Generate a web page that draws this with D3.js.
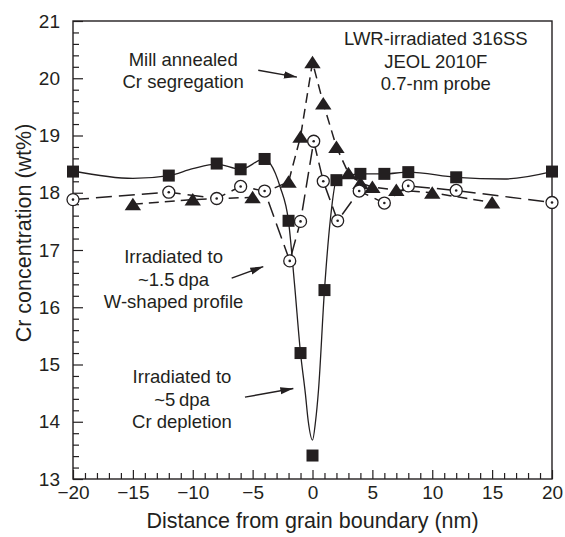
<!DOCTYPE html>
<html>
<head>
<meta charset="utf-8">
<script src="https://cdn.jsdelivr.net/npm/d3@7"></script>
<style>
  body { margin: 0; background: #fff; }
  text { font-family: "Liberation Sans", Arial, Helvetica, sans-serif; fill: #231f20; }
</style>
</head>
<body>
<div id="chart"></div>
<script>
// Squares: irradiated to ~5 dpa (measured points)
const squareX = [-20, -12, -8, -6, -4, -2, -1, 0, 1, 2, 4, 6, 8, 12, 20];
const squareY = [18.37, 18.30, 18.51, 18.41, 18.59, 17.51, 15.20, 13.41, 16.30, 18.22, 18.33, 18.33, 18.36, 18.27, 18.37];

// Smooth fitted curve drawn through the square data
const fitX = [-20, -15, -12, -10, -8, -6, -4, -3.5, -2.7, -2, -1.5, -1, -0.6, -0.35, 0, 0.25, 0.5, 1, 1.5, 2, 4, 6, 8, 12, 16, 20];
const fitY = [18.38, 18.25, 18.30, 18.42, 18.50, 18.41, 18.59, 18.50, 18.10, 17.50, 16.40, 15.20, 14.50, 14.00, 13.68, 14.00, 14.55, 16.30, 17.55, 18.22, 18.33, 18.33, 18.36, 18.27, 18.24, 18.37];

// Triangles: mill annealed
const triX = [-15, -10, -5, -2, -1, 0, 0.9, 2, 3, 4, 5, 7, 10, 15];
const triY = [17.80, 17.88, 17.92, 18.19, 18.98, 20.28, 19.56, 18.80, 18.34, 18.17, 18.10, 18.05, 18.00, 17.83];

// Dotted circles: irradiated to ~1.5 dpa
const circX = [-20, -12, -8, -6, -4, -1.9, -1, 0.1, 0.9, 2.1, 3.9, 6, 8, 12, 20];
const circY = [17.88, 18.01, 17.90, 18.11, 18.03, 16.81, 17.50, 18.90, 18.20, 17.51, 18.03, 17.82, 18.12, 18.04, 17.83];

// Axis ticks
const xTicks = [-20, -15, -10, -5, 0, 5, 10, 15, 20];
const yTicks = [13, 14, 15, 16, 17, 18, 19, 20, 21];

// Annotations (data coordinates, y = first baseline)
const notes = [
  { x: -10.8, y: 20.22, lines: ["Mill annealed", "Cr segregation"] },
  { x: 10.3, y: 20.58, lines: ["LWR-irradiated 316SS", "JEOL 2010F", "0.7-nm probe"] },
  { x: -11.6, y: 16.77, lines: ["Irradiated to", "~1.5\u2009dpa", "W-shaped profile"] },
  { x: -10.9, y: 14.67, lines: ["Irradiated to", "~5\u2009dpa", "Cr depletion"] }
];
const arrows = [
  { x1: -4.53, y1: 20.14, x2: -1.3, y2: 20.02 },
  { x1: -6.75, y1: 16.51, x2: -4.11, y2: 16.71 },
  { x1: -5.64, y1: 14.43, x2: -1.6, y2: 14.58 }
];

const ink = "#231f20";
const margin = { top: 21, right: 13, bottom: 58, left: 73 };
const width = 565 - margin.left - margin.right;
const height = 537 - margin.top - margin.bottom;

const svg = d3.select("#chart")
  .append("svg")
  .attr("width", 565)
  .attr("height", 537);

const defs = svg.append("defs");
defs.append("marker")
  .attr("id", "head")
  .attr("markerUnits", "userSpaceOnUse")
  .attr("viewBox", "0 -5 14 10")
  .attr("refX", 13)
  .attr("refY", 0)
  .attr("markerWidth", 14)
  .attr("markerHeight", 10)
  .attr("orient", "auto")
  .append("path")
  .attr("d", "M0,-3.6L13,0L0,3.6Z")
  .attr("fill", ink);

const g = svg.append("g")
  .attr("transform", `translate(${margin.left},${margin.top})`);

const x = d3.scaleLinear().domain([-20, 20]).range([0, width]);
const y = d3.scaleLinear().domain([13, 21]).range([height, 0]);

// minor ticks
const xMinor = d3.range(-20, 21, 1).filter(v => v % 5 !== 0);
const yMinor = d3.range(13, 21.001, 0.2).filter(v => Math.abs(v - Math.round(v)) > 0.01);

g.append("g")
  .attr("transform", `translate(0,${height})`)
  .call(d3.axisBottom(x).tickValues(xMinor).tickSize(-6).tickFormat(""))
  .call(a => a.select(".domain").remove());
g.append("g")
  .attr("transform", `translate(0,${height})`)
  .call(d3.axisBottom(x).tickValues(xTicks).tickSize(-9).tickPadding(7))
  .call(a => a.select(".domain").remove())
  .call(a => a.selectAll("text").style("font-size", "19px"));

g.append("g")
  .call(d3.axisLeft(y).tickValues(yMinor).tickSize(-6).tickFormat(""))
  .call(a => a.select(".domain").remove());
g.append("g")
  .call(d3.axisLeft(y).tickValues(yTicks).tickSize(-10).tickPadding(13))
  .call(a => a.select(".domain").remove())
  .call(a => a.selectAll("text").style("font-size", "19px"));

g.selectAll(".tick line").attr("stroke", ink).attr("stroke-width", 1.2);

// frame
g.append("rect")
  .attr("width", width)
  .attr("height", height)
  .attr("fill", "none")
  .attr("stroke", ink)
  .attr("stroke-width", 1.4);

// lines
const fitPts = fitX.map((v, i) => [v, fitY[i]]);
const triPts = triX.map((v, i) => [v, triY[i]]);
const circPts = circX.map((v, i) => [v, circY[i]]);

g.append("path")
  .datum(triPts)
  .attr("fill", "none")
  .attr("stroke", ink)
  .attr("stroke-width", 1.5)
  .attr("stroke-dasharray", "10,6")
  .attr("d", d3.line().x(d => x(d[0])).y(d => y(d[1])));

g.append("path")
  .datum(circPts)
  .attr("fill", "none")
  .attr("stroke", ink)
  .attr("stroke-width", 1.5)
  .attr("stroke-dasharray", "16,7")
  .attr("d", d3.line().x(d => x(d[0])).y(d => y(d[1])));

g.append("path")
  .datum(fitPts)
  .attr("fill", "none")
  .attr("stroke", ink)
  .attr("stroke-width", 1.3)
  .attr("d", d3.line().curve(d3.curveMonotoneX).x(d => x(d[0])).y(d => y(d[1])));

// markers
g.selectAll(".tri")
  .data(triPts)
  .enter().append("path")
  .attr("class", "tri")
  .attr("transform", d => `translate(${x(d[0])},${y(d[1])})`)
  .attr("d", "M0,-6.5L8.2,6L-8.2,6Z")
  .attr("fill", ink);

const circ = g.selectAll(".circ")
  .data(circPts)
  .enter().append("g")
  .attr("class", "circ")
  .attr("transform", d => `translate(${x(d[0])},${y(d[1])})`);
circ.append("circle")
  .attr("r", 6)
  .attr("fill", "#fff")
  .attr("stroke", ink)
  .attr("stroke-width", 1.3);
circ.append("circle")
  .attr("r", 1.3)
  .attr("fill", ink);

g.selectAll(".sq")
  .data(squareX.map((v, i) => [v, squareY[i]]))
  .enter().append("rect")
  .attr("class", "sq")
  .attr("x", d => x(d[0]) - 6)
  .attr("y", d => y(d[1]) - 6)
  .attr("width", 12)
  .attr("height", 12)
  .attr("fill", ink);

// annotations
notes.forEach(n => {
  const t = g.append("text")
    .attr("x", x(n.x))
    .attr("y", y(n.y))
    .attr("text-anchor", "middle")
    .style("font-size", "18.5px");
  n.lines.forEach((s, i) => {
    t.append("tspan")
      .attr("x", x(n.x))
      .attr("dy", i === 0 ? 0 : 22.5)
      .text(s);
  });
});

g.selectAll(".arrow")
  .data(arrows)
  .enter().append("line")
  .attr("class", "arrow")
  .attr("x1", d => x(d.x1))
  .attr("y1", d => y(d.y1))
  .attr("x2", d => x(d.x2))
  .attr("y2", d => y(d.y2))
  .attr("stroke", ink)
  .attr("stroke-width", 1.4)
  .attr("marker-end", "url(#head)");

// axis titles
svg.append("text")
  .attr("x", margin.left + width / 2)
  .attr("y", 528)
  .attr("text-anchor", "middle")
  .style("font-size", "21.5px")
  .text("Distance from grain boundary (nm)");

svg.append("text")
  .attr("transform", "translate(31,233) rotate(-90)")
  .attr("text-anchor", "middle")
  .style("font-size", "21.5px")
  .text("Cr concentration (wt%)");
</script>
</body>
</html>
